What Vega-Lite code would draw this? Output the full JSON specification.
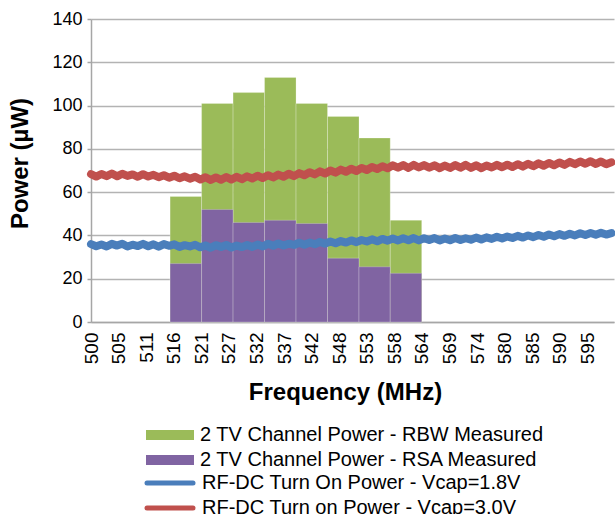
{
  "$schema": "https://vega.github.io/schema/vega-lite/v6.json",
  "width": 523,
  "height": 303,
  "autosize": "none",
  "padding": {"left": 91, "top": 19, "right": 1, "bottom": 192},
  "config": {
    "font": "Liberation Sans",
    "view": {"stroke": null},
    "axis": {"labelColor": "#000000", "titleColor": "#000000"}
  },
  "datasets": {
    "bars": [
      {"x0": 515.2, "x1": 521.25, "rbw": 58, "rsa": 27},
      {"x0": 521.25, "x1": 527.3, "rbw": 101, "rsa": 52},
      {"x0": 527.3, "x1": 533.35, "rbw": 106, "rsa": 46},
      {"x0": 533.35, "x1": 539.4, "rbw": 113, "rsa": 47},
      {"x0": 539.4, "x1": 545.45, "rbw": 101, "rsa": 45.5},
      {"x0": 545.45, "x1": 551.5, "rbw": 95, "rsa": 29.5},
      {"x0": 551.5, "x1": 557.5, "rbw": 85, "rsa": 25.5},
      {"x0": 557.5, "x1": 563.55, "rbw": 47, "rsa": 22.5}
    ],
    "lines": [
      {"f": 500, "b": 36.0, "r": 68.3}, {"f": 501, "b": 35.0, "r": 67.2}, {"f": 502, "b": 35.8, "r": 68.4},
      {"f": 503, "b": 34.9, "r": 67.4}, {"f": 504, "b": 36.1, "r": 68.6}, {"f": 505, "b": 35.3, "r": 67.3},
      {"f": 506, "b": 36.2, "r": 68.5}, {"f": 507, "b": 34.9, "r": 67.5}, {"f": 508, "b": 35.7, "r": 68.2},
      {"f": 509, "b": 35.1, "r": 67.1}, {"f": 510, "b": 36.1, "r": 68.3}, {"f": 511, "b": 35.0, "r": 67.2},
      {"f": 512, "b": 35.9, "r": 68.0}, {"f": 513, "b": 34.8, "r": 66.9}, {"f": 514, "b": 36.0, "r": 67.8},
      {"f": 515, "b": 35.2, "r": 66.7}, {"f": 516, "b": 35.9, "r": 67.6}, {"f": 517, "b": 34.7, "r": 66.4},
      {"f": 518, "b": 35.5, "r": 67.3}, {"f": 519, "b": 34.9, "r": 66.2}, {"f": 520, "b": 35.7, "r": 67.1},
      {"f": 521, "b": 34.5, "r": 65.8}, {"f": 522, "b": 35.4, "r": 66.9}, {"f": 523, "b": 34.3, "r": 65.6},
      {"f": 524, "b": 35.5, "r": 66.8}, {"f": 525, "b": 34.7, "r": 65.7}, {"f": 526, "b": 35.6, "r": 67.0},
      {"f": 527, "b": 34.4, "r": 65.8}, {"f": 528, "b": 35.3, "r": 67.1}, {"f": 529, "b": 34.6, "r": 66.0},
      {"f": 530, "b": 35.6, "r": 67.3}, {"f": 531, "b": 34.7, "r": 66.3}, {"f": 532, "b": 35.8, "r": 67.6},
      {"f": 533, "b": 34.9, "r": 66.5}, {"f": 534, "b": 36.1, "r": 67.8}, {"f": 535, "b": 35.2, "r": 66.8},
      {"f": 536, "b": 36.3, "r": 68.1}, {"f": 537, "b": 35.3, "r": 67.1}, {"f": 538, "b": 36.2, "r": 68.5},
      {"f": 539, "b": 35.6, "r": 67.4}, {"f": 540, "b": 36.6, "r": 68.8}, {"f": 541, "b": 35.7, "r": 67.8},
      {"f": 542, "b": 36.7, "r": 69.2}, {"f": 543, "b": 35.9, "r": 68.2}, {"f": 544, "b": 37.0, "r": 69.6},
      {"f": 545, "b": 36.2, "r": 68.6}, {"f": 546, "b": 37.2, "r": 70.0}, {"f": 547, "b": 36.4, "r": 69.0},
      {"f": 548, "b": 37.4, "r": 70.4}, {"f": 549, "b": 36.7, "r": 69.4}, {"f": 550, "b": 37.7, "r": 70.8},
      {"f": 551, "b": 36.9, "r": 69.8}, {"f": 552, "b": 37.9, "r": 71.2}, {"f": 553, "b": 37.2, "r": 70.2},
      {"f": 554, "b": 38.2, "r": 71.6}, {"f": 555, "b": 37.3, "r": 70.7}, {"f": 556, "b": 38.4, "r": 72.0},
      {"f": 557, "b": 37.6, "r": 71.0}, {"f": 558, "b": 38.6, "r": 72.4}, {"f": 559, "b": 37.7, "r": 71.3},
      {"f": 560, "b": 38.7, "r": 72.5}, {"f": 561, "b": 37.8, "r": 71.2}, {"f": 562, "b": 38.8, "r": 72.6},
      {"f": 563, "b": 37.7, "r": 71.4}, {"f": 564, "b": 38.7, "r": 72.5}, {"f": 565, "b": 37.9, "r": 71.3},
      {"f": 566, "b": 38.8, "r": 72.4}, {"f": 567, "b": 37.7, "r": 71.1}, {"f": 568, "b": 38.6, "r": 72.3},
      {"f": 569, "b": 37.8, "r": 71.2}, {"f": 570, "b": 38.8, "r": 72.5}, {"f": 571, "b": 37.9, "r": 71.3},
      {"f": 572, "b": 38.7, "r": 72.6}, {"f": 573, "b": 38.0, "r": 71.2}, {"f": 574, "b": 39.0, "r": 72.4},
      {"f": 575, "b": 38.1, "r": 71.1}, {"f": 576, "b": 39.1, "r": 72.3}, {"f": 577, "b": 38.4, "r": 71.4},
      {"f": 578, "b": 39.4, "r": 72.6}, {"f": 579, "b": 38.6, "r": 71.5}, {"f": 580, "b": 39.5, "r": 72.7},
      {"f": 581, "b": 38.8, "r": 71.6}, {"f": 582, "b": 39.8, "r": 72.9}, {"f": 583, "b": 39.0, "r": 71.8},
      {"f": 584, "b": 40.0, "r": 73.1}, {"f": 585, "b": 39.2, "r": 72.0}, {"f": 586, "b": 40.2, "r": 73.3},
      {"f": 587, "b": 39.4, "r": 72.2}, {"f": 588, "b": 40.4, "r": 73.5}, {"f": 589, "b": 39.6, "r": 72.4},
      {"f": 590, "b": 40.6, "r": 73.7}, {"f": 591, "b": 39.8, "r": 72.6}, {"f": 592, "b": 40.8, "r": 74.0},
      {"f": 593, "b": 40.0, "r": 72.9}, {"f": 594, "b": 41.0, "r": 74.2}, {"f": 595, "b": 40.2, "r": 73.1},
      {"f": 596, "b": 41.1, "r": 74.3}, {"f": 597, "b": 40.3, "r": 73.0}, {"f": 598, "b": 41.2, "r": 74.2},
      {"f": 599, "b": 40.4, "r": 72.9}, {"f": 600, "b": 41.1, "r": 73.8}
    ]
  },
  "encoding": {
    "x": {
      "type": "quantitative",
      "scale": {"domain": [500, 600.5], "nice": false, "zero": false},
      "axis": {
        "values": [500, 505.3, 510.6, 515.9, 521.2, 526.5, 531.8, 537.1, 542.4, 547.7, 553, 558.3, 563.6, 568.9, 574.2, 579.5, 584.8, 590.1, 595.4],
        "format": ".0f",
        "labelAngle": -90,
        "labelAlign": "right",
        "labelBaseline": "middle",
        "labelFontSize": 19,
        "labelPadding": 10,
        "ticks": false,
        "grid": false,
        "domainColor": "#a6a6a6",
        "domainWidth": 1.5,
        "title": "Frequency (MHz)",
        "titleFontSize": 24,
        "titleFontWeight": "bold",
        "titleX": 254,
        "titleY": 70,
        "titleAlign": "center",
        "titleBaseline": "middle"
      }
    }
  },
  "layer": [
    {
      "data": {"name": "bars"},
      "mark": {"type": "bar", "stroke": "#ffffff", "strokeOpacity": 0.3, "strokeWidth": 0.8},
      "encoding": {
        "x": {"field": "x0", "type": "quantitative"},
        "x2": {"field": "x1"},
        "y": {
          "field": "rbw",
          "type": "quantitative",
          "scale": {"domain": [0, 140], "nice": false},
          "axis": {
            "values": [0, 20, 40, 60, 80, 100, 120, 140],
            "labelFontSize": 18,
            "labelPadding": 5,
            "tickSize": 4,
            "tickColor": "#a6a6a6",
            "tickWidth": 1.5,
            "domainColor": "#a6a6a6",
            "domainWidth": 1.5,
            "grid": true,
            "gridColor": "#b3b3b3",
            "gridWidth": 1.3,
            "title": "Power (µW)",
            "titleFontSize": 24,
            "titleFontWeight": "bold",
            "titleX": -71,
            "titleY": 144,
            "titleAlign": "center",
            "titleBaseline": "middle",
            "titleAngle": -90
          }
        },
        "y2": {"datum": 0},
        "fill": {
          "datum": "2 TV Channel Power - RBW Measured",
          "type": "nominal",
          "scale": {
            "domain": ["2 TV Channel Power - RBW Measured", "2 TV Channel Power - RSA Measured"],
            "range": ["#9bbb59", "#8064a2"]
          },
          "legend": {
            "title": null,
            "orient": "none",
            "legendX": 69,
            "legendY": 406,
            "padding": 0,
            "symbolType": "M-4.8,-1L4.8,-1L4.8,1L-4.8,1Z",
            "symbolSize": 100,
            "symbolStrokeWidth": 0,
            "symbolOpacity": 1,
            "labelFontSize": 20,
            "labelColor": "#000000",
            "labelOffset": 20,
            "rowPadding": 5,
            "labelLimit": 400
          }
        }
      }
    },
    {
      "data": {"name": "bars"},
      "mark": {"type": "bar", "stroke": "#ffffff", "strokeOpacity": 0.3, "strokeWidth": 0.8},
      "encoding": {
        "x": {"field": "x0", "type": "quantitative"},
        "x2": {"field": "x1"},
        "y": {"field": "rsa", "type": "quantitative"},
        "y2": {"datum": 0},
        "fill": {"datum": "2 TV Channel Power - RSA Measured", "type": "nominal"}
      }
    },
    {
      "data": {"name": "lines"},
      "mark": {"type": "line", "strokeWidth": 8, "strokeCap": "round", "strokeJoin": "round"},
      "encoding": {
        "x": {"field": "f", "type": "quantitative"},
        "y": {"field": "b", "type": "quantitative"},
        "stroke": {
          "datum": "RF-DC Turn On Power - Vcap=1.8V",
          "type": "nominal",
          "scale": {
            "domain": ["RF-DC Turn On Power - Vcap=1.8V", "RF-DC Turn on Power - Vcap=3.0V"],
            "range": ["#4a7ebb", "#c0504d"]
          },
          "legend": {
            "title": null,
            "orient": "none",
            "legendX": 69,
            "legendY": 454,
            "padding": 0,
            "symbolType": "M-4.6,0L4.6,0",
            "symbolSize": 100,
            "symbolStrokeWidth": 5,
            "symbolFillColor": "transparent",
            "symbolOpacity": 1,
            "labelFontSize": 20,
            "labelColor": "#000000",
            "labelOffset": 22,
            "rowPadding": 5,
            "labelLimit": 400,
            "encode": {"symbols": {"update": {"strokeCap": {"value": "round"}}}}
          }
        }
      }
    },
    {
      "data": {"name": "lines"},
      "mark": {"type": "line", "strokeWidth": 8, "strokeCap": "round", "strokeJoin": "round"},
      "encoding": {
        "x": {"field": "f", "type": "quantitative"},
        "y": {"field": "r", "type": "quantitative"},
        "stroke": {"datum": "RF-DC Turn on Power - Vcap=3.0V", "type": "nominal"}
      }
    }
  ]
}
